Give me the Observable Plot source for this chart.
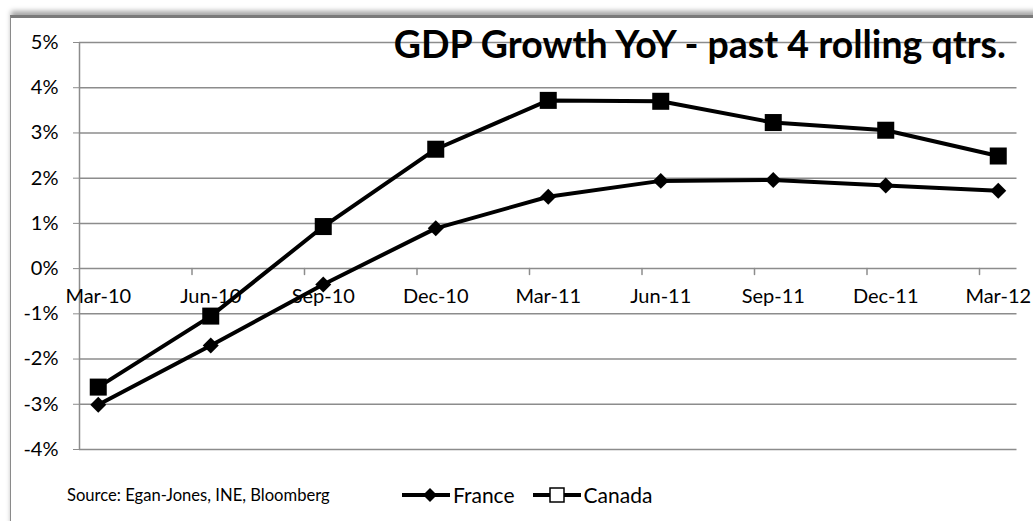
<!DOCTYPE html>
<html>
<head>
<meta charset="utf-8">
<script src="https://cdn.jsdelivr.net/npm/d3@7"></script>
<script src="https://cdn.jsdelivr.net/npm/@observablehq/plot@0.6"></script>
<style>
  html, body { margin: 0; padding: 0; background: #fff; }
  body { width: 1033px; height: 521px; overflow: hidden; position: relative; font-family: Lato, "Open Sans", sans-serif; }
  #frame { position: absolute; left: 10px; top: 15px; width: 1040px; height: 520px;
           border-left: 1.5px solid #8a8a8a; border-top: 3px solid #7a7a7a;
           box-shadow: 0 -5px 5px -1px rgba(0,0,0,0.35); }
  #chart { position: absolute; left: 0; top: 0; }
  #source { position: absolute; left: 67px; top: 485px; font-size: 16.6px; color: #000; white-space: nowrap; }
  #legend { position: absolute; left: 402px; top: 482px; display: flex; align-items: center; font-size: 21px; color: #000; }
  #legend .item { display: flex; align-items: center; margin-right: 18px; }
  #legend svg { margin-right: 3px; }
</style>
</head>
<body>
<div id="frame"></div>
<div id="chart"></div>
<div id="source"></div>
<div id="legend"></div>
<script>
// ---- data ----
const categories = ["Mar-10","Jun-10","Sep-10","Dec-10","Mar-11","Jun-11","Sep-11","Dec-11","Mar-12"];
const france = [-3.01, -1.70, -0.35, 0.89, 1.59, 1.94, 1.96, 1.84, 1.72];
const canada = [-2.62, -1.05, 0.93, 2.64, 3.72, 3.70, 3.23, 3.06, 2.49];
const yTicks = [-4, -3, -2, -1, 0, 1, 2, 3, 4, 5];
const titleText = "GDP Growth YoY - past 4 rolling qtrs.";
const sourceText = "Source: Egan-Jones, INE, Bloomberg";
const seriesNames = ["France", "Canada"];

// month-based date axis: each quarter label sits in the middle of its month slot
const monthOf = i => i * 3 + 0.5;
const tickMonths = categories.map((c, i) => i * 3);

const rows = [];
categories.forEach((c, i) => {
  rows.push({series: "France", m: monthOf(i), v: france[i]});
  rows.push({series: "Canada", m: monthOf(i), v: canada[i]});
});
const frRows = rows.filter(d => d.series === "France");
const caRows = rows.filter(d => d.series === "Canada");
const labelRows = categories.map((c, i) => ({label: c, m: monthOf(i)}));

const tickShape = {draw(context, l) { context.moveTo(0, 0); context.lineTo(0, -l); }};
const grid = "#8c8c8c";

const chart = Plot.plot({
  width: 1033,
  height: 521,
  marginLeft: 79,
  marginRight: 16.5,
  marginTop: 42,
  marginBottom: 72,
  style: {fontFamily: "Lato, 'Open Sans', sans-serif", background: "transparent", overflow: "visible"},
  x: {domain: [0, 25], axis: null},
  y: {domain: [-4, 5], ticks: yTicks, tickFormat: d => d + "%", label: null},
  marks: [
    Plot.gridY(yTicks, {stroke: grid, strokeOpacity: 1, strokeWidth: 1.5}),
    Plot.axisY(yTicks, {tickFormat: d => d + "%", tickSize: 6, tickPadding: 15, stroke: grid, fontSize: 20, fill: "#000", label: null}),
    Plot.ruleX([0], {stroke: grid, strokeWidth: 1.5}),
    Plot.vector(tickMonths.slice(1), {x: d => d, y: () => 0, length: 6, rotate: 180, anchor: "start", shape: tickShape, stroke: grid, strokeWidth: 1.5}),
    Plot.text(labelRows, {x: "m", y: () => 0, text: "label", dy: 28, fontSize: 20, fill: "#000"}),
    Plot.text([titleText], {frameAnchor: "top-right", text: d => d, textAnchor: "end", lineAnchor: "bottom", dx: -11, dy: 15, fontSize: 37.5, fontWeight: "bold", fill: "#000"}),
    Plot.line(frRows, {x: "m", y: "v", stroke: "#000", strokeWidth: 4, strokeLinejoin: "round"}),
    Plot.line(caRows, {x: "m", y: "v", stroke: "#000", strokeWidth: 4, strokeLinejoin: "round"}),
    Plot.dot(frRows, {x: "m", y: "v", symbol: "diamond2", r: 7.2, fill: "#000", stroke: "none"}),
    Plot.dot(caRows, {x: "m", y: "v", symbol: "square", r: 9.6, fill: "#000", stroke: "none"})
  ]
});
document.getElementById("chart").appendChild(chart);

document.getElementById("source").textContent = sourceText;

const legend = document.getElementById("legend");
seriesNames.forEach(name => {
  const item = document.createElement("div");
  item.className = "item";
  const marker = name === "France"
    ? '<polygon points="28,3 35,10 28,17 21,10" fill="#000"/>'
    : '<rect x="17" y="3" width="14" height="14" fill="#fff" stroke="#000" stroke-width="1.5"/>';
  item.innerHTML = '<svg width="48" height="20"><line x1="0" y1="10" x2="48" y2="10" stroke="#000" stroke-width="4"/>' + marker + '</svg><span>' + name + '</span>';
  legend.appendChild(item);
});
</script>
</body>
</html>
